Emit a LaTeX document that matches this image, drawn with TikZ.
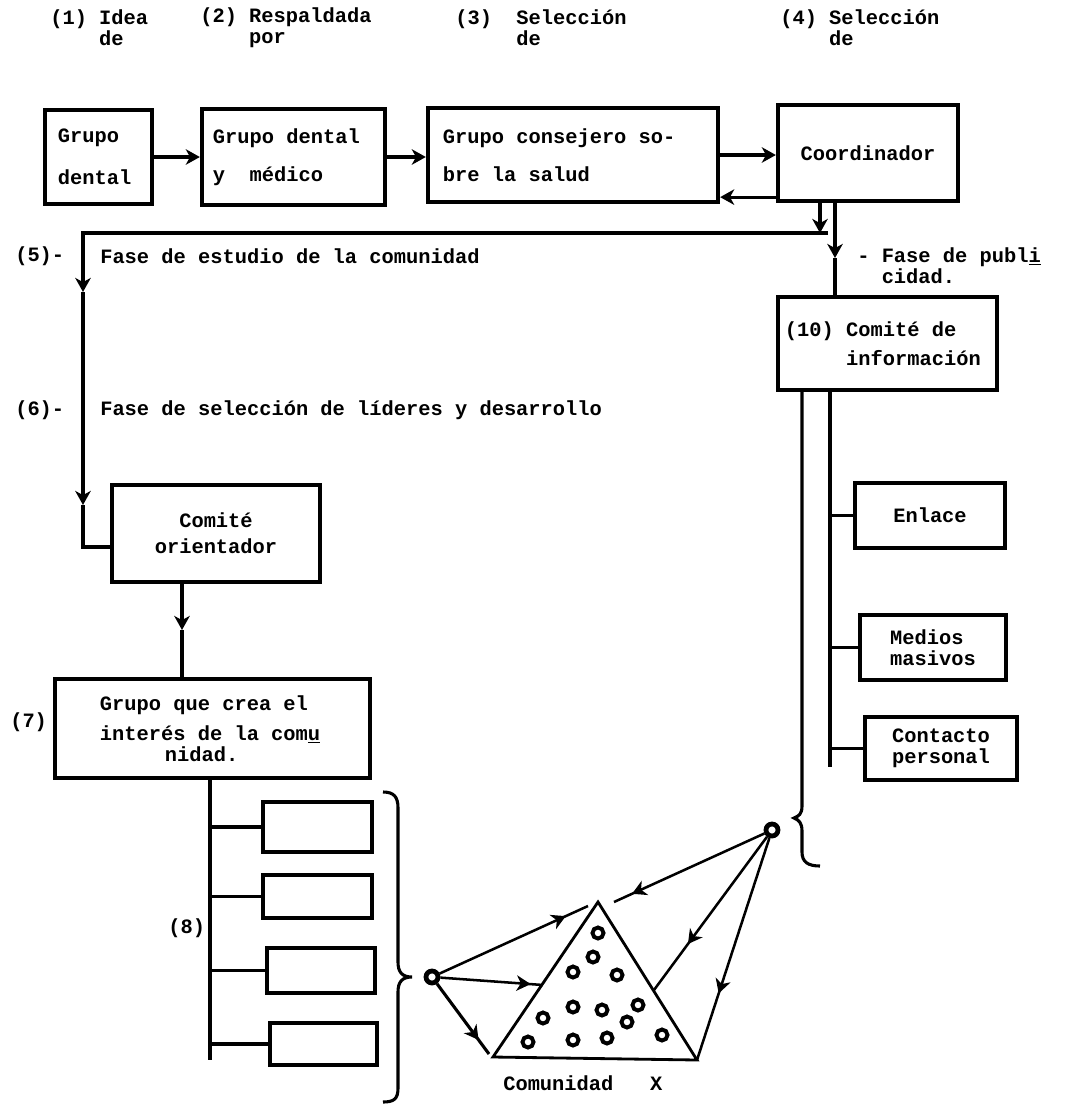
\documentclass[tikz,border=0pt]{standalone}
\usepackage{fontspec}
\setmainfont{Liberation Mono}[WordSpace={1,0,0}]
\usetikzlibrary{arrows.meta,calc,decorations.markings}

\newcommand{\numlbl}[3]{#1~#2\\\hphantom{#1~}#3}

\begin{document}
\begin{tikzpicture}[x=0.025cm, y=0.025cm,
  every node/.append style={inner sep=0pt, font=\bfseries\fontsize{14.5}{15}\selectfont},
  box/.style={draw, line width=3pt, align=left,
    execute at begin node={\spaceskip=0pt\xspaceskip=0pt\relax}},
  wire/.style={line width=2.2pt},
  fine/.style={line width=1.8pt},
  arr/.style={-{Stealth[length=10pt,width=11pt,inset=3pt]}},
  midarr/.style={postaction={decorate},
    decoration={markings, mark=at position #1 with {\arrow{Stealth[length=10pt,width=11pt,inset=3pt]}}}},
  ring/.style={draw, circle, line width=3.4pt, minimum size=0.3cm}]
\useasboundingbox (0,0) rectangle (1074,-1106);
\node[anchor=west, align=left] (l1) at (50,-28) {\numlbl{(1)}{Idea}{de}};
\node[anchor=west, align=left] (l2) at (200,-28) {\numlbl{(2)}{Respaldada}{por}};
\node[anchor=west, align=left] (l3) at (455,-28) {\numlbl{(3)~}{Selección}{de}};
\node[anchor=west, align=left] (l4) at (780,-28) {\numlbl{(4)}{Selección}{de}};
\node[box, minimum width=2.675cm, minimum height=2.35cm, text width=2.025cm] (dental) at (98.5,-157) {Grupo\\[15pt]dental};
\node[box, minimum width=4.575cm, minimum height=2.4cm, text width=4.025cm] (medico) at (293.5,-157) {Grupo dental\\[12pt]y~~médico};
\node[box, minimum width=7.25cm, minimum height=2.35cm, text width=6.5cm] (consejo) at (573,-155) {Grupo consejero so-\\[12pt]bre la salud};
\node[box, minimum width=4.5cm, minimum height=2.4cm] (coord) at (868,-153) {Coordinador};
\node[box, minimum width=5.475cm, minimum height=2.325cm, text width=5.125cm] (info) at (887.5,-343.5) {(10)~Comité de\\[6pt]\hphantom{(10)~}información};
\node[box, minimum width=3.75cm, minimum height=1.625cm] (enlace) at (930,-515.5) {Enlace};
\node[box, minimum width=3.65cm, minimum height=1.625cm] (medios) at (933,-647.5) {Medios\\masivos};
\node[box, minimum width=3.8cm, minimum height=1.575cm] (contacto) at (941,-748.5) {Contacto\\personal};
\node[box, minimum width=5.2cm, minimum height=2.425cm, align=center] (orient) at (216,-533.5) {Comité\\[3.5pt]orientador};
\node[box, minimum width=7.875cm, minimum height=2.475cm, text width=5.625cm] (grupo) at (212.5,-728.5) {Grupo que crea el\\[6pt]interés de la com\underline{u}\\\hspace*{1.625cm}nidad.};
\node[box, minimum width=2.725cm, minimum height=1.25cm] (e1) at (317.5,-827) {};
\node[box, minimum width=2.725cm, minimum height=1.075cm] (e2) at (317.5,-896.5) {};
\node[box, minimum width=2.7cm, minimum height=1.125cm] (e3) at (321,-970.5) {};
\node[box, minimum width=2.675cm, minimum height=1.05cm] (e4) at (323.5,-1044) {};
\node[anchor=west] (n5) at (15,-256) {(5)-};
\node[anchor=west] (f5) at (100,-256) {Fase de estudio de la comunidad};
\node[anchor=west] (n6) at (15,-410) {(6)-};
\node[anchor=west] (f6) at (100,-410) {Fase de selección de líderes y desarrollo};
\node[anchor=west, align=left] (f9) at (857,-266) {-~Fase de publ\underline{i}\\\hphantom{-~}cidad.};
\node[anchor=west] (n7) at (10,-722) {(7)};
\node[anchor=west] (n8) at (168,-928) {(8)};
\node[anchor=west] (comx) at (503,-1083) {Comunidad~~~X};
\draw[wire, arr] (dental.east) -- (dental.east -| medico.west);
\draw[wire, arr] (medico.east) -- (medico.east -| consejo.west);
\draw[wire, arr] (consejo.east) -- (consejo.east -| coord.west);
\coordinate (back) at ($(coord.south west)+(0,6)$);
\draw[wire, arr] (back) -- (back -| consejo.east);
\coordinate (c0) at (828,-233);
\coordinate (c1) at (820,-233);
\coordinate (k1) at (83,-233);
\coordinate (k2) at (83,-292);
\coordinate (k3) at (83,-505);
\coordinate (k4) at (83,-547);
\draw[wire, arr] (c1 |- coord.south) -- (c1);
\draw[wire, arr] (c0) -- (k1) -- (k2);
\draw[wire, arr] (k2) -- (k3);
\draw[wire] (k3) -- (k4) -- (k4 -| orient.west);
\coordinate (p1) at (835,-258);
\draw[wire, arr] (p1 |- coord.south) -- (p1);
\draw[wire] (p1) -- (p1 |- info.north);
\coordinate (r1) at (802,-806);
\coordinate (r2) at (830,-767);
\draw[wire] (r1 |- info.south) -- (r1) .. controls (802,-814) and (799,-816) .. (794,-818) .. controls (799,-820) and (802,-823) .. (802,-831) -- (802,-852) .. controls (802,-862) and (808,-866) .. (820,-866);
\draw[wire] (r2 |- info.south) -- (r2);
\draw[wire] (enlace.west) -- (enlace.west -| r2);
\draw[wire] (medios.west) -- (medios.west -| r2);
\draw[wire] (contacto.west) -- (contacto.west -| r2);
\coordinate (o1) at (182,-630);
\draw[wire, arr] (o1 |- orient.south) -- (o1);
\draw[wire] (o1) -- (o1 |- grupo.north);
\coordinate (v1) at (210,-1060);
\draw[wire] (v1 |- grupo.south) -- (v1);
\draw[wire] (e1.west) -- (e1.west -| v1);
\draw[wire] (e2.west) -- (e2.west -| v1);
\draw[wire] (e3.west) -- (e3.west -| v1);
\draw[wire] (e4.west) -- (e4.west -| v1);
\draw[wire] (383,-792) .. controls (394,-792) and (398,-797) .. (398,-808) -- (398,-962) .. controls (398,-972) and (402,-977) .. (412,-977) .. controls (402,-977) and (398,-982) .. (398,-992) -- (398,-1088) .. controls (398,-1099) and (394,-1102) .. (383,-1102);
\node[ring] (cl) at (432,-977) {};
\node[ring] (cr) at (772,-830) {};
\coordinate (ta) at (598,-902);
\coordinate (tl) at (493,-1057);
\coordinate (tr) at (697,-1060);
\draw[line width=2pt, line join=miter] (ta) -- (tl) -- (tr) -- cycle;
\coordinate (a1) at (588,-906);
\coordinate (a2) at (543,-985);
\coordinate (a3) at (489,-1054);
\coordinate (a4) at (614,-902);
\coordinate (a5) at (654,-990);
\draw[fine, midarr=0.85] (cl) -- (a1);
\draw[fine, midarr=0.88] (cl) -- (a2);
\draw[wire, midarr=0.8] (cl) -- (a3);
\draw[fine, midarr=0.88] (cr) -- (a4);
\draw[fine, midarr=0.7] (cr) -- (a5);
\draw[fine, midarr=0.7] (cr) -- (tr);
\draw[line width=2.8pt] (598,-933) circle (5.5);
\draw[line width=2.8pt] (593,-957) circle (5.5);
\draw[line width=2.8pt] (573,-972) circle (5.5);
\draw[line width=2.8pt] (617,-975) circle (5.5);
\draw[line width=2.8pt] (573,-1007) circle (5.5);
\draw[line width=2.8pt] (602,-1010) circle (5.5);
\draw[line width=2.8pt] (638,-1005) circle (5.5);
\draw[line width=2.8pt] (627,-1022) circle (5.5);
\draw[line width=2.8pt] (543,-1018) circle (5.5);
\draw[line width=2.8pt] (528,-1042) circle (5.5);
\draw[line width=2.8pt] (573,-1040) circle (5.5);
\draw[line width=2.8pt] (607,-1038) circle (5.5);
\draw[line width=2.8pt] (662,-1035) circle (5.5);
\end{tikzpicture}
\end{document}
